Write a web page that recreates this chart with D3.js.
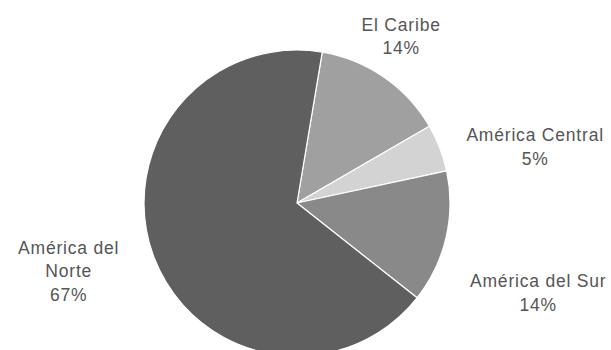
<!DOCTYPE html>
<html>
<head>
<meta charset="utf-8">
<script src="https://cdn.jsdelivr.net/npm/d3@7"></script>
<style>
  html, body { margin: 0; padding: 0; background: #fff; }
  svg { display: block; overflow: hidden; }
  text { font-family: "Liberation Sans", Arial, sans-serif; font-size: 17.5px; fill: #555; letter-spacing: 0.8px; }
</style>
</head>
<body>
<svg id="chart" width="611" height="350"></svg>
<script>
// Regional shares (%), clockwise from the top
const regions = ["El Caribe", "América Central", "América del Sur", "América del Norte"];
const regionLabelLines = [["El Caribe"], ["América Central"], ["América del Sur"], ["América del", "Norte"]];
const shares = [14, 5, 14, 67];
const sliceColors = ["#a0a0a0", "#d3d3d3", "#898989", "#5f5f5f"];

// Layout
const width = 611, height = 350;
const cx = 297, cy = 203, radius = 153;
const startDeg = 9.5;
const labelRadius = radius + 45;
const lineStep = 23.5, capHeight = 12.5;
// Fine offsets for each label block (px), applied after polar placement
const labelNudge = [[-9, -4], [53, 15], [48, 45], [-44, -3.5]];

const svg = d3.select("#chart");
const g = svg.append("g").attr("transform", `translate(${cx},${cy})`);

const rows = regions.map((name, i) => ({ name, value: shares[i], lines: regionLabelLines[i], color: sliceColors[i], idx: i }));

const start = startDeg * Math.PI / 180;
const pie = d3.pie().sort(null).value(d => d.value).startAngle(start).endAngle(start + 2 * Math.PI);
const arc = d3.arc().innerRadius(0).outerRadius(radius);
const arcs = pie(rows);

g.selectAll("path.slice")
  .data(arcs)
  .join("path")
  .attr("class", "slice")
  .attr("d", arc)
  .attr("fill", d => d.data.color)
  .attr("stroke", "#fff")
  .attr("stroke-width", 1.2)
  .attr("stroke-linejoin", "round");

const labels = g.selectAll("g.label")
  .data(arcs)
  .join("g")
  .attr("class", "label")
  .attr("transform", d => {
    const a = (d.startAngle + d.endAngle) / 2;
    const n = d.data.lines.length + 1;
    const blockH = (n - 1) * lineStep + capHeight;
    const x = Math.sin(a) * labelRadius + labelNudge[d.data.idx][0];
    const yc = -Math.cos(a) * labelRadius + labelNudge[d.data.idx][1];
    const y = yc - blockH / 2 + capHeight;
    return `translate(${x},${y})`;
  });

labels.each(function(d) {
  const sel = d3.select(this);
  const lines = d.data.lines.concat([d.data.value + "%"]);
  sel.selectAll("text")
    .data(lines)
    .join("text")
    .attr("text-anchor", "middle")
    .attr("dx", 0.4)
    .attr("y", (t, i) => i * lineStep)
    .text(t => t);
});
</script>
</body>
</html>
